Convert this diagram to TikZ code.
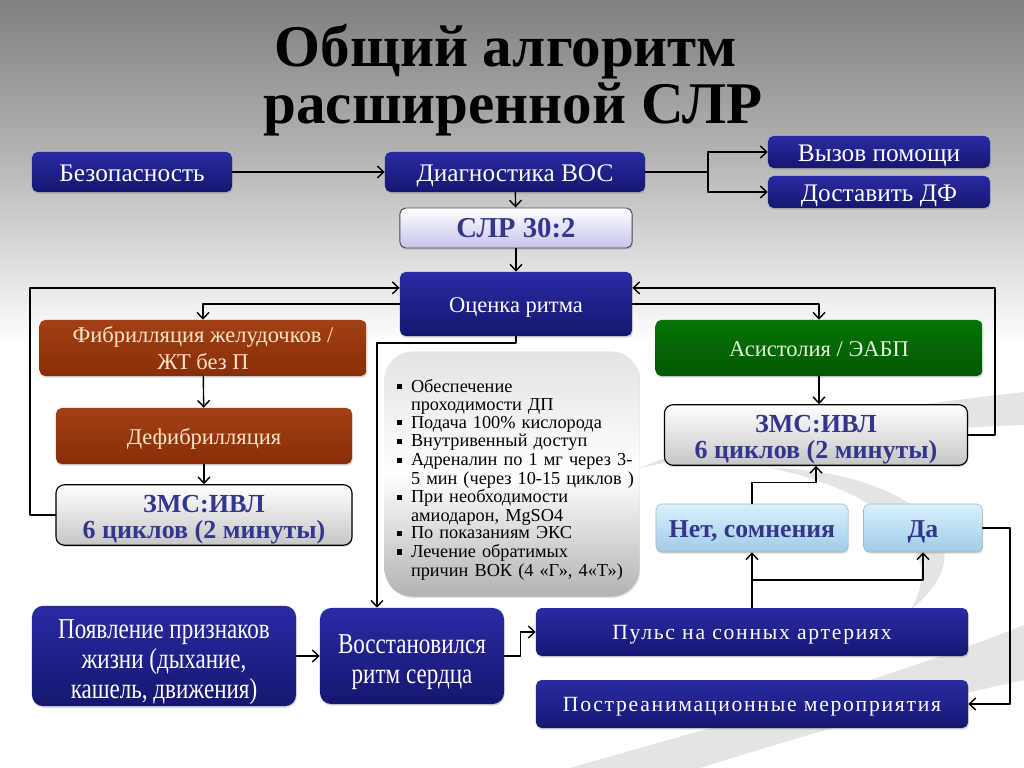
\documentclass[tikz,border=0pt]{standalone}
\usepackage{fontspec}
\setmainfont{Liberation Serif}
\newfontfamily\narrowfont[FakeStretch=0.8]{Liberation Serif}
\newfontfamily\widefont[LetterSpace=8.0]{Liberation Serif}
\usetikzlibrary{arrows.meta,calc,shadows}
\definecolor{bgtop}{RGB}{128,128,128}
\definecolor{bgmid}{RGB}{178,178,178}
\definecolor{navyA}{RGB}{42,42,164}
\definecolor{navyB}{RGB}{22,22,112}
\definecolor{brownA}{RGB}{162,64,20}
\definecolor{brownB}{RGB}{136,46,8}
\definecolor{brownT}{RGB}{252,228,198}
\definecolor{greenA}{RGB}{8,116,8}
\definecolor{greenB}{RGB}{0,88,0}
\definecolor{greenT}{RGB}{228,246,218}
\definecolor{blueA}{RGB}{218,240,252}
\definecolor{blueB}{RGB}{158,204,232}
\definecolor{lilac}{RGB}{196,196,236}
\definecolor{inkblue}{RGB}{52,54,142}
\definecolor{swoosh}{RGB}{228,228,228}
\newcommand{\sqb}[1]{\par\noindent\makebox[10pt][l]{\rule[2pt]{3.8pt}{3.8pt}}\parbox[t]{162pt}{\raggedright #1}}
\newcommand{\lift}[1]{\rule{0pt}{#1}}
\tikzset{
  every picture/.style={line join=round, line cap=round, >={Straight Barb[length=4.5pt,width=8.5pt]}},
  box/.style={rounded corners=4pt, align=center, inner sep=1pt, drop shadow={opacity=0.3,shadow xshift=0.5pt,shadow yshift=-1.2pt}},
  oneline/.style={text height=#1, text depth=0pt},
  navybox/.style={box, top color=navyA, bottom color=navyB, text=white, font=\fontsize{18}{21}\selectfont},
  brownbox/.style={box, top color=brownA, bottom color=brownB, text=brownT, font=\fontsize{16}{19}\selectfont},
  greenbox/.style={box, top color=greenA, bottom color=greenB, text=greenT, font=\fontsize{16}{19}\selectfont},
  cyclebox/.style={box, draw=black, line width=0.8pt, rounded corners=6pt, top color=white, bottom color=gray!45, text=inkblue, font=\bfseries\fontsize{18.5}{18}\selectfont},
  slrbox/.style={box, draw=black!70, line width=0.7pt, top color=white, bottom color=lilac, text=inkblue, font=\bfseries\fontsize{20.5}{22}\selectfont},
  answerbox/.style={box, draw=gray!60, line width=0.4pt, top color=blueA, bottom color=blueB, text=inkblue, font=\bfseries\fontsize{18.3}{20}\selectfont},
  drugbox/.style={rounded corners=20pt, top color=gray!22, bottom color=gray!60, middle color=white, text width=5.75cm, font=\fontsize{13}{13.3}\selectfont, drop shadow={opacity=0.25,shadow xshift=0.5pt,shadow yshift=-1pt}},
  lifebox/.style={navybox, rounded corners=8pt, font=\narrowfont\fontsize{20.5}{21.5}\selectfont},
  wideblue/.style={navybox, font=\widefont\fontsize{15.4}{18}\selectfont},
  arr/.style={->, line width=1pt},
  link/.style={line width=1pt},
}
\begin{document}
\begin{tikzpicture}[x=0.025cm,y=-0.025cm]
\useasboundingbox (0,0) rectangle (1024,768);
\shade[top color=bgtop,bottom color=bgmid] (0,0) rectangle (1024,150);
\shade[top color=bgmid,bottom color=white] (0,150) rectangle (1024,345);
\fill[white] (0,345) rectangle (1024,768);
\fill[swoosh] (1024,392) .. controls (860,410) and (700,440) .. (640,468) .. controls (720,450) and (880,430) .. (1024,425) -- cycle;
\fill[swoosh] (770,468) .. controls (900,470) and (1000,540) .. (910,610) .. controls (950,550) and (880,490) .. (770,468) -- cycle;
\fill[swoosh] (1024,625) .. controls (860,690) and (700,730) .. (570,768) -- (700,768) .. controls (820,730) and (930,700) .. (1024,680) -- cycle;

\node[font=\bfseries\fontsize{42}{50}\selectfont] (title1) at (506,52) {Общий алгоритм};
\node[font=\bfseries\fontsize{42}{50}\selectfont] (title2) at (513,109) {расширенной СЛР};

\node[navybox, oneline=13pt, minimum width=5cm, minimum height=1cm] (safe) at (132,172) {Безопасность};
\node[navybox, oneline=13pt, minimum width=6.5cm, minimum height=1cm] (diag) at (515,172) {Диагностика ВОС};
\node[navybox, oneline=13pt, minimum width=5.55cm, minimum height=0.8cm] (help) at (879,152) {Вызов помощи};
\node[navybox, oneline=13pt, minimum width=5.55cm, minimum height=0.8cm] (defi) at (879,192) {Доставить ДФ};
\node[slrbox, oneline=14pt, minimum width=5.8cm, minimum height=1cm] (slr) at (516,228) {СЛР 30:2};
\node[navybox, oneline=11.5pt, minimum width=5.8cm, minimum height=1.6cm, font=\fontsize{16}{19}\selectfont] (rhythm) at (516,304) {Оценка ритма};
\node[brownbox, minimum width=8.175cm, minimum height=1.4cm] (vf) at (203,348) {Фибрилляция желудочков /\\ЖТ без П};
\node[brownbox, oneline=11.5pt, minimum width=7.4cm, minimum height=1.4cm] (shock) at (204,436) {Дефибрилляция};
\node[cyclebox, minimum width=7.4cm, minimum height=1.35cm] (cprL) at (204,515) {\lift{19pt}ЗМС:ИВЛ\\6 циклов (2 минуты)};
\node[drugbox, minimum width=6.375cm, minimum height=6.125cm] (drugs) at (512,474) {%
\sqb{Обеспечение\newline проходимости ДП}
\sqb{Подача 100\% кислорода}
\sqb{Внутривенный доступ}
\sqb{Адреналин  по 1 мг через 3-\newline 5 мин (через 10-15 циклов )}
\sqb{При необходимости\newline амиодарон, MgSO4}
\sqb{По показаниям ЭКС}
\sqb{Лечение обратимых\newline причин ВОК  (4 «Г», 4«Т»)}
\par\vskip-5pt\mbox{}};
\node[greenbox, oneline=11.5pt, minimum width=8.175cm, minimum height=1.4cm] (asys) at (819,348) {Асистолия / ЭАБП};
\node[cyclebox, minimum width=7.575cm, minimum height=1.35cm] (cprR) at (816,435) {\lift{19pt}ЗМС:ИВЛ\\6 циклов (2 минуты)};
\node[answerbox, oneline=13pt, minimum width=4.8cm, minimum height=1.2cm] (doubt) at (752,528) {Нет, сомнения};
\node[answerbox, oneline=13pt, minimum width=2.975cm, minimum height=1.2cm] (yes) at (923,528) {Да};
\node[lifebox, minimum width=6.6cm, minimum height=2.4cm] (signs) at (164,656) {\lift{22pt}Появление признаков\\жизни (дыхание,\\кашель, движения)};
\node[lifebox, minimum width=4.6cm, minimum height=2.4cm] (restored) at (412,656) {\lift{22pt}Восстановился\\ритм сердца};
\node[wideblue, oneline=11pt, minimum width=10.8cm, minimum height=1.2cm] (pulse) at (752,632) {Пульс на сонных артериях};
\node[wideblue, oneline=11pt, minimum width=10.8cm, minimum height=1.2cm] (post) at (752,704) {Постреанимационные мероприятия};

\coordinate (fork) at (708,172);
\coordinate (loopL) at (30,515);
\coordinate (loopR) at (995,435);
\coordinate (dropL) at (377,343);
\coordinate (inL) at ($(rhythm.north west)!0.25!(rhythm.south west)$);
\coordinate (inR) at ($(rhythm.north east)!0.25!(rhythm.south east)$);

\draw[arr] (safe) -- (diag);
\draw[link] (diag) -- (fork);
\draw[arr] (fork) |- (help);
\draw[arr] (fork) |- (defi);
\draw[arr] (diag) -- (slr);
\draw[arr] (slr) -- (rhythm);
\draw[arr] (rhythm.west) -| (vf.north);
\draw[arr] (vf) -- (shock);
\draw[arr] (shock) -- (cprL);
\draw[arr] (cprL.west) -- (loopL) |- (inL);
\draw[arr] (rhythm.east) -| (asys.north);
\draw[arr] (asys.south) -- (asys.south |- cprR.north);
\draw[arr] (cprR.east) -- (loopR) |- (inR);
\draw[arr] (rhythm.south) |- (dropL) -- (dropL |- restored.north);
\draw[arr] (signs) -- (restored);
\draw[arr] (restored.east) -- ++(16,0) |- (pulse.west);
\draw[arr] (pulse.north) -- (doubt.south);
\draw[arr] ($(pulse.north)!0.5!(doubt.south)$) -| (yes.south);
\draw[arr] (doubt.north) -- ++(0,-21) -| (cprR.south);
\draw[arr] (yes.east) -- ++(27,0) |- (post.east);
\end{tikzpicture}
\end{document}
